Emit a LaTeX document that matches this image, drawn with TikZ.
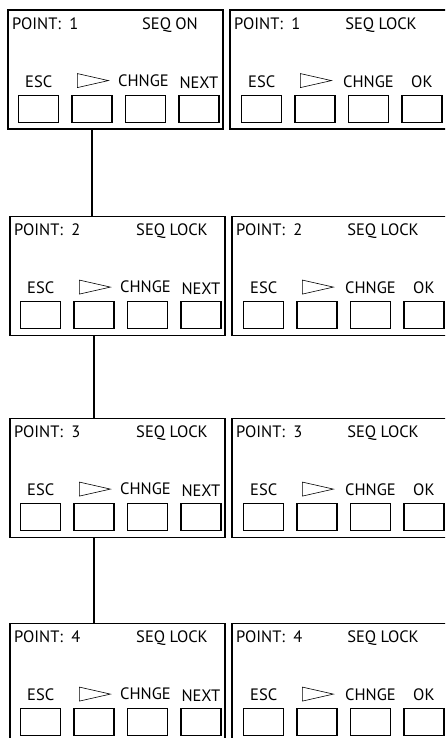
\documentclass[tikz,border=0pt]{standalone}
\usepackage{fontspec}
\setmainfont{PT Sans}
\usetikzlibrary{positioning}

\begin{document}
\begin{tikzpicture}[x=1pt, y=1pt,
  panel/.style={rectangle, draw, line width=1.5pt, minimum width=215pt, minimum height=119pt, anchor=north west, inner sep=0pt},
  key/.style={rectangle, draw, line width=1.4pt, minimum width=40pt, minimum height=27pt, inner sep=0pt},
  caption/.style={font=\fontsize{16.5}{16.5}\selectfont, inner sep=0pt, text depth=0pt},
  title/.style={caption, anchor=base west},
  arrowmark/.style={line width=0.6pt},
  link/.style={line width=1.3pt}]

\useasboundingbox (0,0) rectangle (445,738);
\clip (0,0) rectangle (445,738);

% Panels

\foreach \row/\lx/\rx/\ty/\seq in {1/7/229/728.5/SEQ ON, 2/9/231/522/SEQ LOCK, 3/9/231/320/SEQ LOCK, 4/9/231/115/SEQ LOCK} {

  % left panel
  \node [panel] (L\row) at (\lx,\ty) {};
  \node [title] (L\row pt) at ([shift={(5pt,-20pt)}]L\row.north west) {POINT:\enspace\row};
  \node [caption, anchor=base] (L\row seq) at ([shift={(163pt,-20pt)}]L\row.north west) {\seq};

  \node [key, above right=7pt and 11pt of L\row.south west, anchor=south west] (L\row b1) {};
  \node [key, right=12pt of L\row b1] (L\row b2) {};
  \node [key, right=12pt of L\row b2] (L\row b3) {};
  \node [key, right=12pt of L\row b3] (L\row b4) {};

  \node [caption, above=7pt of L\row b1] (L\row esc) {ESC};
  \node [caption, above=8pt of L\row b3, xshift=-2pt] (L\row chg) {CHNGE};
  \node [caption, above=6pt of L\row b4] (L\row nxt) {NEXT};
  \draw [arrowmark] ([shift={(6pt,7pt)}]L\row b2.north west) -- ++(0,14) -- ++(31,-7) -- cycle;

  % right panel
  \node [panel, minimum width=222pt] (R\row) at (\rx,\ty) {};
  \node [title] (R\row pt) at ([shift={(5pt,-20pt)}]R\row.north west) {POINT:\enspace\row};
  \node [caption, anchor=base] (R\row seq) at ([shift={(152pt,-20pt)}]R\row.north west) {SEQ LOCK};

  \node [key, above right=7pt and 12pt of R\row.south west, anchor=south west] (R\row b1) {};
  \node [key, right=12pt of R\row b1] (R\row b2) {};
  \node [key, right=12pt of R\row b2] (R\row b3) {};
  \node [key, right=12pt of R\row b3] (R\row b4) {};

  \node [caption, above=7pt of R\row b1] (R\row esc) {ESC};
  \node [caption, above=7pt of R\row b3] (R\row chg) {CHNGE};
  \node [caption, above=7pt of R\row b4] (R\row ok) {OK};
  \draw [arrowmark] ([shift={(6pt,7pt)}]R\row b2.north west) -- ++(0,14) -- ++(31,-7) -- cycle;
}

% Sequence

\draw [link] (L1.south -| L1b2) -- (L2.north -| L1b2);
\draw [link] (L2.south -| L2b2) -- (L3.north -| L2b2);
\draw [link] (L3.south -| L3b2) -- (L4.north -| L3b2);

\end{tikzpicture}
\end{document}
